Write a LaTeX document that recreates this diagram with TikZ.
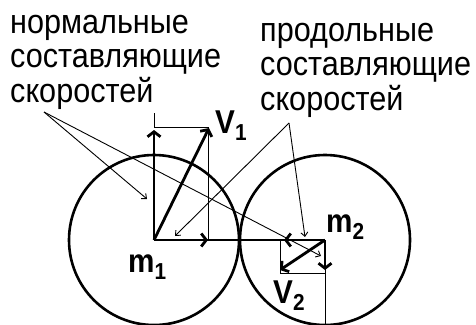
\documentclass[tikz,border=0pt]{standalone}
\usepackage{fontspec}
\setmainfont{Liberation Sans}[FakeStretch=0.9]
\usetikzlibrary{arrows.meta}

\tikzset{
  vec/.style={line width=2.8pt, -{Straight Barb[length=5pt,width=13pt]}},
  rod/.style={line width=2.8pt},
  aux/.style={line width=0.8pt},
  lead/.style={line width=0.9pt, -{Straight Barb[length=4pt,width=7pt]}},
  ball/.style={line width=2.6pt},
  caption/.style={anchor=base west, align=left, inner sep=0pt,
    font=\fontsize{34}{34.5}\selectfont},
  mass/.style={anchor=base west, inner sep=0pt,
    font=\bfseries\fontsize{33}{33}\selectfont},
}

\begin{document}
\begin{tikzpicture}[x=1pt,y=-1pt]
  \useasboundingbox (0,0) rectangle (476,324);

  % centres and vector ends
  \coordinate (m1) at (154,240);
  \coordinate (m2) at (325,240);
  \coordinate (v1) at (209,128);
  \coordinate (v1n) at (154,130);
  \coordinate (v1t) at (208,240);
  \coordinate (v2) at (280,270);
  \coordinate (v2n) at (325,270);
  \coordinate (v2t) at (284,240);

  % balls
  \draw[ball] (m1) circle (85);
  \draw[ball] (m2) circle (85);

  % thin construction lines
  \draw[aux] (154,113) -- (154,127) -- (208,127) -- (208,240);
  \draw[aux] (280,240) -- (280,273) -- (325,273);
  \draw[aux] (m2) -- (325,326);

  % velocities and their components
  \draw[rod] (m1) -- (m2);
  \draw[vec] (m1) -- (v1);
  \draw[vec] (m1) -- (v1n);
  \draw[vec] (m1) -- (v1t);
  \draw[vec] (m2) -- (v2);
  \draw[vec] (m2) -- (v2n);
  \draw[vec] (m2) -- (v2t);

  % labels
  \node[mass] (lm1) at (128,272) {m\textsubscript{1}};
  \node[mass] (lm2) at (326,232) {m\textsubscript{2}};
  \node[mass] (lv1) at (215,133) {V\textsubscript{1}};
  \node[mass] (lv2) at (273,303) {V\textsubscript{2}};

  % anchored at the baseline of the last line
  \node[caption] (normtxt) at (10,102) {нормальные\\составляющие\\скоростей};
  \node[caption] (longtxt) at (260,110) {продольные\\составляющие\\скоростей};

  % leaders
  \coordinate (nfoot) at (44,112);
  \coordinate (lfoot) at (289,123);
  \coordinate (n1) at (147,199);
  \coordinate (n2) at (321,256);
  \coordinate (l1) at (175,236);
  \coordinate (l2) at (305,237);
  \draw[lead] (nfoot) -- (n1);
  \draw[lead] (nfoot) -- (n2);
  \draw[lead] (lfoot) -- (l1);
  \draw[lead] (lfoot) -- (l2);
\end{tikzpicture}
\end{document}
